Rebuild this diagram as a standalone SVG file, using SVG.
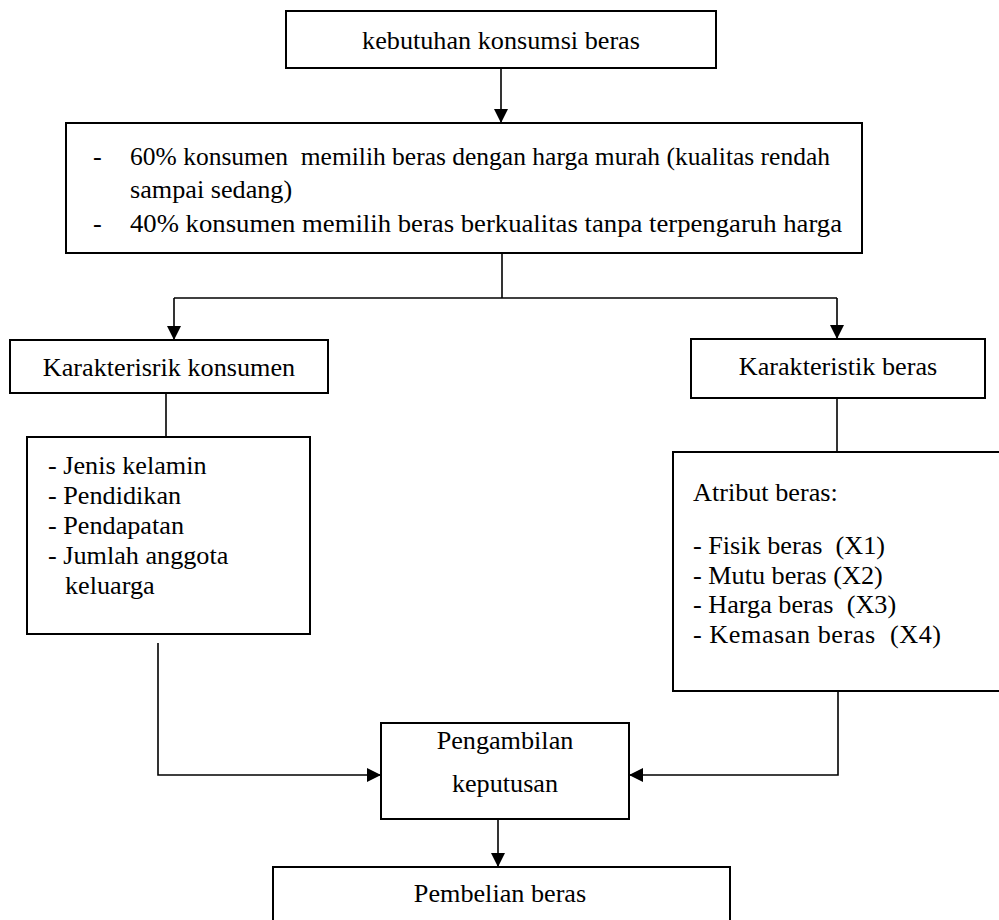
<svg xmlns="http://www.w3.org/2000/svg" width="999" height="920" viewBox="0 0 999 920" xml:space="preserve">
<style>
.box{fill:#fff;stroke:#000;stroke-width:2}
.ln{fill:none;stroke:#000;stroke-width:1.6}
text{font-family:"Liberation Serif","Times New Roman",serif;font-size:26.2px;fill:#000;white-space:pre}
.c{text-anchor:middle}
</style>
<defs>
<marker id="ah" markerUnits="userSpaceOnUse" markerWidth="16" markerHeight="14" refX="14" refY="7" orient="auto">
<path d="M0,0 L14,7 L0,14 Z" fill="#000"/>
</marker>
</defs>
<rect width="999" height="920" fill="#fff"/>
<g id="connectors">
<path class="ln" d="M501,68 V123" marker-end="url(#ah)"/>
<path class="ln" d="M502,253 V298"/>
<path class="ln" d="M174,298 H837"/>
<path class="ln" d="M174,298 V340" marker-end="url(#ah)"/>
<path class="ln" d="M837,298 V339" marker-end="url(#ah)"/>
<path class="ln" d="M166,393 V437"/>
<path class="ln" d="M837,398 V452"/>
<path class="ln" d="M158,643 V775 H381" marker-end="url(#ah)"/>
<path class="ln" d="M838,691 V775 H629" marker-end="url(#ah)"/>
<path class="ln" d="M498,819 V867" marker-end="url(#ah)"/>
</g>
<g id="n1">
<rect class="box" x="286" y="11" width="430" height="57"/>
<text class="c" x="501" y="49">kebutuhan konsumsi beras</text>
</g>
<g id="n2">
<rect class="box" x="66" y="123" width="796" height="130"/>
<text x="93" y="165">-</text>
<text x="130" y="165" textLength="700" lengthAdjust="spacingAndGlyphs">60% konsumen  memilih beras dengan harga murah (kualitas rendah</text>
<text x="130" y="198">sampai sedang)</text>
<text x="93" y="232">-</text>
<text x="130" y="232" textLength="712" lengthAdjust="spacingAndGlyphs">40% konsumen memilih beras berkualitas tanpa terpengaruh harga</text>
</g>
<g id="n3">
<rect class="box" x="10" y="340" width="318" height="53"/>
<text class="c" x="169" y="376">Karakterisrik konsumen</text>
</g>
<g id="n4">
<rect class="box" x="27" y="437" width="283" height="197"/>
<text x="48" y="474">- Jenis kelamin</text>
<text x="48" y="504">- Pendidikan</text>
<text x="48" y="534">- Pendapatan</text>
<text x="48" y="564">- Jumlah anggota</text>
<text x="65" y="594">keluarga</text>
</g>
<g id="n5">
<rect class="box" x="691" y="339" width="294" height="59"/>
<text class="c" x="838" y="375">Karakteristik beras</text>
</g>
<g id="n6">
<rect class="box" x="673" y="452" width="340" height="239"/>
<text x="693" y="501">Atribut beras:</text>
<text x="693" y="554">- Fisik beras  (X1)</text>
<text x="693" y="584">- Mutu beras (X2)</text>
<text x="693" y="613">- Harga beras  (X3)</text>
<text x="693" y="643" textLength="248" lengthAdjust="spacing">- Kemasan beras  (X4)</text>
</g>
<g id="n7">
<rect class="box" x="381" y="723" width="248" height="96"/>
<text class="c" x="505" y="749">Pengambilan</text>
<text class="c" x="505" y="792">keputusan</text>
</g>
<g id="n8">
<rect class="box" x="273" y="867" width="457" height="70"/>
<text class="c" x="500" y="902">Pembelian beras</text>
</g>
</svg>
